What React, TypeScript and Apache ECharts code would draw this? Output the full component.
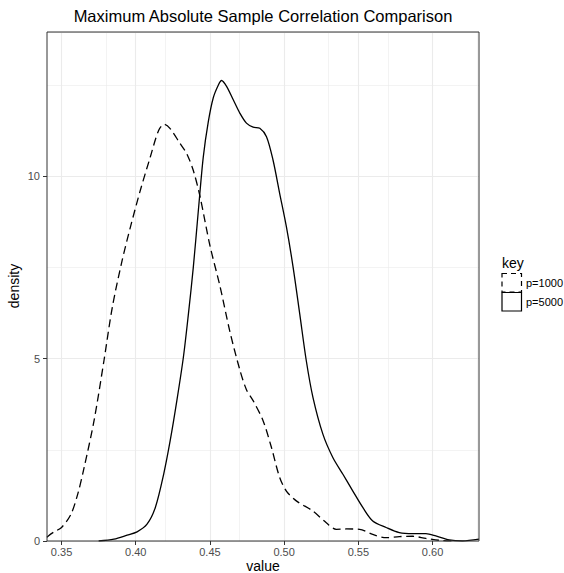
import React, { useEffect, useRef } from "react";
import * as echarts from "echarts";

const chartTitle = "Maximum Absolute Sample Correlation Comparison";
const xTitle = "value";
const yTitle = "density";
const legendTitle = "key";
const seriesNames = ["p=1000", "p=5000"];

const xMajorTicks = [0.35, 0.4, 0.45, 0.5, 0.55, 0.6];
const xMinorTicks = [0.375, 0.425, 0.475, 0.525, 0.575, 0.625];

// p=1000 density (dashed)
const p1000: [number, number][] = [
  [0.3402, 0.1], [0.3411, 0.14], [0.345, 0.25], [0.35, 0.37], [0.3563, 0.73], [0.361, 1.3],
  [0.3652, 2.01], [0.3719, 3.3], [0.3786, 4.95], [0.3842, 6.41], [0.3908, 7.69], [0.3964, 8.61],
  [0.4031, 9.62], [0.4098, 10.53], [0.4154, 11.26], [0.4192, 11.43], [0.4232, 11.31], [0.4299, 10.9],
  [0.4344, 10.62], [0.4388, 10.16], [0.4433, 9.45], [0.45, 8.1], [0.4567, 7.0], [0.4634, 5.75],
  [0.4701, 4.7], [0.4746, 4.15], [0.4791, 3.85], [0.4858, 3.3], [0.4914, 2.57], [0.497, 1.74],
  [0.5015, 1.37], [0.5082, 1.1], [0.5194, 0.82], [0.5284, 0.5], [0.5351, 0.32], [0.542, 0.33],
  [0.5508, 0.32], [0.5597, 0.18], [0.5687, 0.09], [0.5776, 0.12], [0.5866, 0.13], [0.5955, 0.07],
  [0.6045, 0.02], [0.6135, 0.0],
];

// p=5000 density (solid)
const p5000: [number, number][] = [
  [0.375, 0.0], [0.3853, 0.05], [0.3942, 0.16], [0.4009, 0.25], [0.4076, 0.46], [0.4132, 0.92],
  [0.4188, 1.83], [0.4232, 2.75], [0.4277, 3.85], [0.4321, 5.04], [0.4355, 6.23], [0.4388, 7.51],
  [0.4422, 9.07], [0.4455, 10.53], [0.4489, 11.5], [0.4522, 12.15], [0.4556, 12.5], [0.4578, 12.63],
  [0.4612, 12.47], [0.4657, 12.1], [0.4702, 11.73], [0.4746, 11.46], [0.4791, 11.35], [0.4836, 11.32],
  [0.4881, 11.09], [0.4925, 10.45], [0.497, 9.53], [0.5015, 8.62], [0.506, 7.52], [0.5105, 6.23],
  [0.5149, 4.95], [0.5194, 3.94], [0.5261, 2.93], [0.5328, 2.29], [0.5396, 1.83], [0.5463, 1.37],
  [0.553, 0.92], [0.5597, 0.55], [0.5687, 0.37], [0.5776, 0.23], [0.5866, 0.2], [0.5955, 0.2],
  [0.6022, 0.14], [0.6112, 0.03], [0.6201, 0.0], [0.6313, 0.05],
];

const FONT = "'Liberation Sans', Arial, Helvetica, sans-serif";

export default function App() {
  const ref = useRef<HTMLDivElement>(null);
  useEffect(() => {
    if (!ref.current) return;
    const chart = echarts.init(ref.current, undefined, { renderer: "svg" });
    const gridMark = (vals: number[], w: number) =>
      vals.map((v) => ({ xAxis: v, lineStyle: { color: "#EBEBEB", width: w, type: "solid" } }));
    chart.setOption({
      animation: false,
      backgroundColor: "#ffffff",
      textStyle: { fontFamily: FONT },
      grid: { left: 47, top: 32, right: 85, bottom: 32, show: true, borderColor: "#333333", borderWidth: 1, backgroundColor: "transparent", z: 10 },
      xAxis: {
        type: "value",
        min: 0.3402,
        max: 0.6313,
        axisLine: { show: false },
        axisTick: { show: true, length: 4, lineStyle: { color: "#333333" }, customValues: xMajorTicks },
        axisLabel: {
          color: "#4D4D4D", fontSize: 11, margin: 5, fontFamily: FONT,
          customValues: xMajorTicks,
          formatter: (v: number) => v.toFixed(2),
        },
        splitLine: { show: false },
      },
      yAxis: {
        type: "value",
        min: 0,
        max: 13.96,
        interval: 5,
        axisLine: { show: false },
        axisTick: { show: true, length: 4, lineStyle: { color: "#333333" } },
        axisLabel: { color: "#4D4D4D", fontSize: 11, margin: 7, fontFamily: FONT, showMaxLabel: false },
        splitLine: { show: true, lineStyle: { color: "#EBEBEB", width: 1.1 } },
        minorTick: { show: false, splitNumber: 2 },
        minorSplitLine: { show: true, lineStyle: { color: "#EBEBEB", width: 0.6 } },
      },
      series: [
        {
          type: "line",
          name: "grid",
          data: [],
          silent: true,
          z: 1,
          markLine: {
            silent: true,
            symbol: "none",
            label: { show: false },
            data: [...gridMark(xMajorTicks, 1.1), ...gridMark(xMinorTicks, 0.6)],
          },
        },
        {
          type: "line",
          name: seriesNames[0],
          data: p1000,
          showSymbol: false,
          smooth: 0.3,
          z: 5,
          lineStyle: { color: "#000000", width: 1.3, type: [8, 4.5] },
        },
        {
          type: "line",
          name: seriesNames[1],
          data: p5000,
          showSymbol: false,
          smooth: 0.3,
          z: 5,
          lineStyle: { color: "#000000", width: 1.3, type: "solid" },
        },
      ],
      graphic: [
        {
          type: "text", x: 263, y: 16,
          style: { text: chartTitle, fontSize: 16.5, fill: "#000000", fontFamily: FONT, textAlign: "center", textVerticalAlign: "middle" },
        },
        {
          type: "text", x: 263, y: 566,
          style: { text: xTitle, fontSize: 14, fill: "#000000", fontFamily: FONT, textAlign: "center", textVerticalAlign: "middle" },
        },
        {
          type: "text", x: 14, y: 286, rotation: Math.PI / 2,
          style: { text: yTitle, fontSize: 14, fill: "#000000", fontFamily: FONT, textAlign: "center", textVerticalAlign: "middle" },
        },
        {
          type: "text", x: 502, y: 263,
          style: { text: legendTitle, fontSize: 14, fill: "#000000", fontFamily: FONT, textAlign: "left", textVerticalAlign: "middle" },
        },
        {
          type: "rect", shape: { x: 502, y: 273.5, width: 19.5, height: 18.5 },
          style: { fill: "#ffffff", stroke: "#000000", lineWidth: 1.2, lineDash: [5, 4] },
        },
        {
          type: "rect", shape: { x: 502, y: 292.5, width: 19.5, height: 18.5 },
          style: { fill: "#ffffff", stroke: "#000000", lineWidth: 1.2 },
        },
        {
          type: "text", x: 526, y: 283,
          style: { text: seriesNames[0], fontSize: 11, fill: "#000000", fontFamily: FONT, textAlign: "left", textVerticalAlign: "middle" },
        },
        {
          type: "text", x: 526, y: 302,
          style: { text: seriesNames[1], fontSize: 11, fill: "#000000", fontFamily: FONT, textAlign: "left", textVerticalAlign: "middle" },
        },
      ],
    });
    return () => chart.dispose();
  }, []);
  return <div ref={ref} style={{ position: "fixed", left: 0, top: 0, width: 564, height: 573 }} />;
}
